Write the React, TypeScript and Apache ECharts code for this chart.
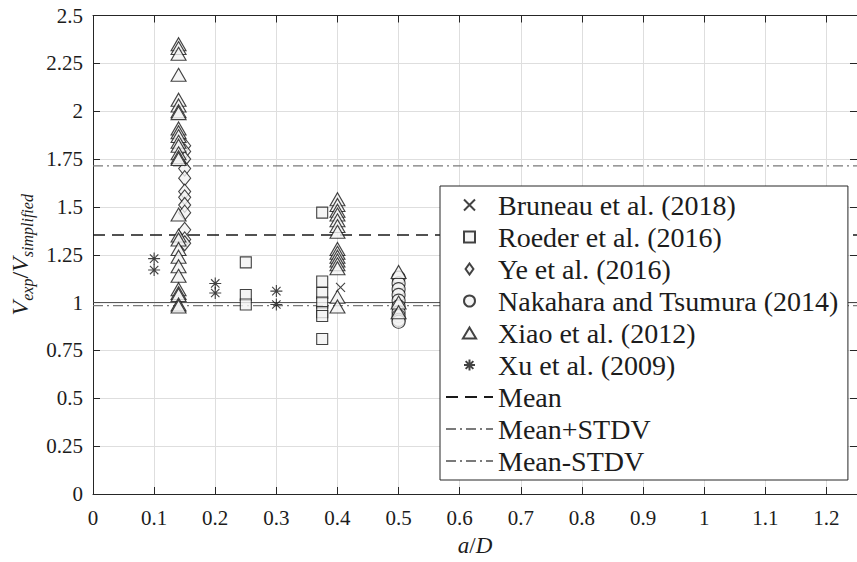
import React, { useEffect, useRef } from "react";
import * as echarts from "echarts";

// ---- data (a/D, Vexp/Vsimplified) ----
const bruneau: number[][] = [[0.405, 1.08], [0.5, 0.93]];
const roeder: number[][] = [
  [0.25, 1.21], [0.25, 1.04], [0.25, 0.99],
  [0.375, 1.47], [0.375, 1.11], [0.375, 1.05], [0.375, 1.0], [0.375, 0.95], [0.375, 0.93], [0.375, 0.81],
];
const ye: number[][] = [
  [0.15, 1.82], [0.15, 1.79], [0.15, 1.75], [0.15, 1.7], [0.15, 1.65], [0.15, 1.58],
  [0.15, 1.55], [0.15, 1.51], [0.15, 1.47], [0.15, 1.38], [0.15, 1.33], [0.15, 1.31],
];
const nakahara: number[][] = [
  [0.5, 1.13], [0.5, 1.1], [0.5, 1.07], [0.5, 1.04], [0.5, 1.01],
  [0.5, 0.98], [0.5, 0.95], [0.5, 0.93], [0.5, 0.91], [0.5, 0.9],
];
const xiao: number[][] = [
  [0.14, 2.35], [0.14, 2.33], [0.14, 2.3], [0.14, 2.19], [0.14, 2.06], [0.14, 2.03], [0.14, 2.0], [0.14, 1.99],
  [0.14, 1.91], [0.14, 1.89], [0.14, 1.87], [0.14, 1.84], [0.14, 1.82], [0.14, 1.78], [0.14, 1.76], [0.14, 1.75],
  [0.14, 1.46], [0.14, 1.35], [0.14, 1.33], [0.14, 1.28], [0.14, 1.24], [0.14, 1.19], [0.14, 1.14],
  [0.14, 1.07], [0.14, 1.05], [0.14, 1.04], [0.14, 0.99], [0.14, 0.98],
  [0.4, 1.54], [0.4, 1.51], [0.4, 1.48], [0.4, 1.46], [0.4, 1.43], [0.4, 1.4], [0.4, 1.37],
  [0.4, 1.28], [0.4, 1.26], [0.4, 1.24], [0.4, 1.22], [0.4, 1.2], [0.4, 1.18], [0.4, 1.03], [0.4, 0.98],
  [0.5, 1.16], [0.5, 1.0], [0.5, 0.95],
];
const xu: number[][] = [[0.1, 1.23], [0.1, 1.17], [0.2, 1.1], [0.2, 1.05], [0.3, 1.06], [0.3, 0.99]];

const MEAN = 1.353;
const MEAN_PLUS = 1.714;
const MEAN_MINUS = 0.984;
const UNITY = 1.0;
const X_RANGE = [0, 1.25];
const Y_RANGE = [0, 2.5];

const FONT = "'Liberation Serif', 'Times New Roman', 'DejaVu Serif', serif";
const INK = "#1c1c1c";
const EDGE = "#141414";
const FILL = "#f2f2f2";

const CROSS = "path://M0,0L10,10M10,0L0,10";
const STAR = "path://M5,0L5,10M0,5L10,5M1.5,1.5L8.5,8.5M8.5,1.5L1.5,8.5";
const SQUARE = "path://M0,0L10,0L10,10L0,10Z";
const DIAMOND = "path://M5,0L10,7L5,14L0,7Z";
const TRIANGLE = "path://M6,0L12,10L0,10Z";

const markerStyle = { color: FILL, borderColor: EDGE, borderWidth: 1.1 };
const strokeStyle = { color: "rgba(0,0,0,0)", borderColor: EDGE, borderWidth: 1.1 };
const hiddenSymbol = { color: "rgba(0,0,0,0)", borderColor: "rgba(0,0,0,0)", opacity: 0 };

function hLine(v: number) {
  return [[X_RANGE[0], v], [X_RANGE[1], v]];
}

export default function App() {
  const ref = useRef<HTMLDivElement>(null);
  useEffect(() => {
    const chart = echarts.init(ref.current!, null, { renderer: "svg" });
    const axisCommon = {
      type: "value" as const,
      axisLine: { show: true, onZero: false, lineStyle: { color: "#262626", width: 1 } },
      axisTick: { show: true, inside: true, length: 7, lineStyle: { color: "#262626", width: 1 } },
    };
    const option: any = {
      animation: false,
      backgroundColor: "#fff",
      textStyle: { fontFamily: FONT },
      grid: { left: 93, top: 15.5, width: 766.4, height: 478.5, containLabel: false },
      xAxis: [
        {
          ...axisCommon,
          min: X_RANGE[0],
          max: X_RANGE[1],
          interval: 0.1,
          position: "bottom",
          axisLabel: {
            fontFamily: FONT,
            fontSize: 21,
            color: INK,
            margin: 13,
            showMaxLabel: false,
            formatter: (v: number) => (v > 1.22 ? "" : String(Math.round(v * 10) / 10)),
          },
          splitLine: { show: true, lineStyle: { color: "#dedede", width: 1 } },
          name: "{i|a}{n|/}{i|D}",
          nameLocation: "middle",
          nameGap: 40,
          nameTextStyle: {
            rich: {
              i: { fontFamily: FONT, fontSize: 23, fontStyle: "italic", color: INK },
              n: { fontFamily: FONT, fontSize: 23, color: INK },
            },
          },
        },
        {
          ...axisCommon,
          min: X_RANGE[0],
          max: X_RANGE[1],
          interval: 0.1,
          position: "top",
          axisLabel: { show: false },
          splitLine: { show: false },
        },
      ],
      yAxis: [
        {
          ...axisCommon,
          min: Y_RANGE[0],
          max: Y_RANGE[1],
          interval: 0.25,
          position: "left",
          axisLabel: {
            fontFamily: FONT,
            fontSize: 21,
            color: INK,
            margin: 10,
            formatter: (v: number) => String(v),
          },
          splitLine: { show: true, lineStyle: { color: "#dedede", width: 1 } },
          name: "{v|V}{s|exp}{n|/}{v|V}{s|simplified}",
          nameLocation: "middle",
          nameRotate: 90,
          nameGap: 56,
          nameTextStyle: {
            rich: {
              v: { fontFamily: FONT, fontSize: 24, fontStyle: "italic", color: INK, lineHeight: 30, verticalAlign: "middle" },
              n: { fontFamily: FONT, fontSize: 24, color: INK, lineHeight: 30, verticalAlign: "middle" },
              s: { fontFamily: FONT, fontSize: 16, fontStyle: "italic", color: INK, lineHeight: 14, verticalAlign: "bottom" },
            },
          },
        },
        {
          ...axisCommon,
          min: Y_RANGE[0],
          max: Y_RANGE[1],
          interval: 0.25,
          position: "right",
          axisLabel: { show: false },
          splitLine: { show: false },
        },
      ],
      legend: {
        orient: "vertical",
        left: 440,
        top: 186,
        padding: [3, 9, 3, 5],
        itemWidth: 47,
        itemHeight: 11,
        itemGap: 0,
        backgroundColor: "#fff",
        borderColor: "#262626",
        borderWidth: 1,
        borderRadius: 0,
        textStyle: { fontFamily: FONT, fontSize: 28, color: INK, lineHeight: 32 },
        data: [
          "Bruneau et al. (2018)",
          "Roeder et al. (2016)",
          "Ye et al. (2016)",
          "Nakahara and Tsumura (2014)",
          "Xiao et al. (2012)",
          "Xu et al. (2009)",
          "Mean",
          "Mean+STDV",
          "Mean-STDV",
        ],
      },
      series: [
        {
          name: "Unity",
          type: "line",
          data: hLine(UNITY),
          symbol: "none",
          silent: true,
          z: 1,
          itemStyle: hiddenSymbol,
          lineStyle: { color: "#4d4d4d", width: 1, type: "solid" },
        },
        {
          name: "Mean",
          type: "line",
          data: hLine(MEAN),
          symbol: "none",
          silent: true,
          z: 1,
          itemStyle: hiddenSymbol,
          lineStyle: { color: "#1a1a1a", width: 1.4, type: [12, 7] },
        },
        {
          name: "Mean+STDV",
          type: "line",
          data: hLine(MEAN_PLUS),
          symbol: "none",
          silent: true,
          z: 1,
          itemStyle: hiddenSymbol,
          lineStyle: { color: "#7a7a7a", width: 1.3, type: [10, 4, 2, 4] },
        },
        {
          name: "Mean-STDV",
          type: "line",
          data: hLine(MEAN_MINUS),
          symbol: "none",
          silent: true,
          z: 1,
          itemStyle: hiddenSymbol,
          lineStyle: { color: "#7a7a7a", width: 1.3, type: [10, 4, 2, 4] },
        },
        {
          name: "Bruneau et al. (2018)",
          type: "scatter",
          data: bruneau,
          symbol: CROSS,
          symbolSize: 9,
          itemStyle: strokeStyle,
          z: 3,
        },
        {
          name: "Roeder et al. (2016)",
          type: "scatter",
          data: roeder,
          symbol: SQUARE,
          symbolSize: 11,
          itemStyle: markerStyle,
          z: 3,
        },
        {
          name: "Ye et al. (2016)",
          type: "scatter",
          data: ye,
          symbol: DIAMOND,
          symbolSize: [12, 15],
          itemStyle: markerStyle,
          z: 3,
        },
        {
          name: "Nakahara and Tsumura (2014)",
          type: "scatter",
          data: nakahara,
          symbol: "circle",
          symbolSize: 13,
          itemStyle: markerStyle,
          z: 3,
        },
        {
          name: "Xiao et al. (2012)",
          type: "scatter",
          data: xiao,
          symbol: TRIANGLE,
          symbolSize: [15, 13],
          itemStyle: markerStyle,
          z: 3,
        },
        {
          name: "Xu et al. (2009)",
          type: "scatter",
          data: xu,
          symbol: STAR,
          symbolSize: 12,
          itemStyle: strokeStyle,
          z: 3,
        },
      ],
    };
    chart.setOption(option);
    return () => chart.dispose();
  }, []);
  return (
    <div
      ref={ref}
      style={{ position: "fixed", left: 0, top: 0, width: 857, height: 562, background: "#fff" }}
    />
  );
}
